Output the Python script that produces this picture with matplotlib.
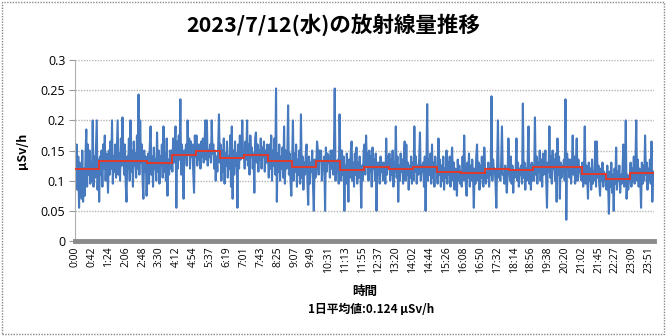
import matplotlib
matplotlib.use('Agg')
import matplotlib.pyplot as plt
import numpy as np

plt.rcParams['font.family'] = ['Noto Sans CJK JP', 'DejaVu Sans']

# readings every 2 minutes, in nSv/h, one list per hour
h00 = [150, 95, 160, 85, 140, 55, 130, 100, 70, 150, 65, 120, 75, 140, 185, 90, 160, 110, 150, 95, 130, 100, 200, 90, 140, 105, 150, 200, 85, 135]
h01 = [65, 140, 110, 150, 90, 160, 120, 175, 100, 145, 125, 80, 150, 110, 165, 120, 200, 95, 140, 115, 160, 105, 150, 200, 110, 145, 100, 170, 125, 205]
h02 = [150, 110, 160, 95, 65, 140, 120, 170, 100, 200, 115, 150, 90, 165, 125, 145, 105, 175, 120, 243, 110, 200, 130, 160, 100, 70, 150, 115, 140, 75]
h03 = [120, 145, 95, 160, 190, 110, 140, 90, 155, 120, 135, 100, 180, 115, 150, 95, 140, 125, 160, 105, 190, 115, 145, 100, 170, 75, 135, 110, 150, 120]
h04 = [150, 115, 170, 130, 160, 190, 55, 165, 120, 175, 135, 235, 110, 160, 130, 70, 150, 140, 160, 125, 200, 145, 170, 120, 165, 140, 160, 115, 80, 175]
h05 = [140, 175, 125, 160, 135, 160, 120, 165, 140, 170, 130, 155, 200, 135, 200, 125, 150, 140, 160, 130, 200, 145, 160, 120, 150, 100, 140, 115, 155, 210]
h06 = [130, 160, 100, 150, 115, 170, 95, 145, 125, 165, 105, 140, 120, 175, 90, 190, 70, 150, 110, 165, 125, 145, 55, 160, 120, 175, 135, 150, 200, 140]
h07 = [150, 120, 165, 135, 200, 125, 160, 110, 175, 140, 155, 120, 145, 80, 170, 180, 130, 160, 115, 150, 135, 170, 120, 155, 140, 165, 115, 150, 130, 160]
h08 = [140, 105, 160, 120, 175, 100, 150, 125, 170, 110, 253, 65, 145, 115, 160, 100, 140, 120, 155, 105, 190, 95, 150, 120, 135, 225, 110, 145, 100, 75]
h09 = [130, 200, 100, 145, 115, 160, 90, 135, 110, 150, 95, 210, 105, 140, 85, 130, 110, 145, 160, 100, 60, 140, 95, 130, 115, 150, 90, 50, 135, 105]
h10 = [120, 165, 150, 110, 150, 135, 150, 100, 130, 125, 140, 50, 155, 115, 145, 130, 140, 105, 150, 120, 150, 110, 145, 253, 100, 130, 115, 135, 95, 210]
h11 = [130, 100, 150, 110, 140, 50, 125, 95, 145, 115, 65, 135, 105, 150, 165, 100, 130, 90, 145, 110, 155, 95, 130, 105, 140, 115, 55, 125, 100, 150]
h12 = [160, 110, 175, 125, 145, 100, 150, 115, 140, 90, 155, 120, 135, 100, 145, 50, 130, 110, 130, 95, 140, 115, 130, 100, 130, 120, 95, 170, 110, 140]
h13 = [120, 145, 100, 135, 110, 150, 90, 130, 115, 190, 105, 140, 65, 125, 100, 145, 115, 135, 95, 140, 165, 100, 160, 110, 130, 85, 125, 105, 140, 95]
h14 = [130, 100, 190, 115, 140, 95, 125, 110, 135, 180, 100, 125, 115, 130, 90, 140, 50, 120, 227, 100, 135, 110, 145, 95, 160, 105, 130, 90, 140, 115]
h15 = [120, 95, 170, 110, 135, 90, 125, 100, 140, 85, 120, 105, 150, 95, 130, 110, 140, 90, 125, 155, 100, 130, 85, 120, 105, 75, 135, 100, 125, 95]
h16 = [115, 90, 140, 100, 175, 120, 95, 75, 130, 105, 145, 90, 125, 100, 135, 110, 55, 120, 95, 140, 160, 100, 130, 85, 125, 105, 140, 95, 90, 155]
h17 = [120, 95, 115, 105, 130, 90, 120, 110, 240, 100, 135, 115, 120, 95, 55, 125, 200, 105, 115, 100, 130, 190, 110, 110, 95, 125, 105, 80, 110, 170]
h18 = [130, 100, 140, 95, 125, 80, 115, 105, 115, 170, 100, 130, 90, 120, 110, 125, 95, 228, 105, 130, 85, 120, 100, 135, 190, 95, 125, 85, 130, 100]
h19 = [125, 100, 205, 110, 140, 95, 130, 115, 150, 100, 135, 90, 145, 110, 125, 150, 100, 55, 130, 115, 190, 105, 140, 95, 150, 120, 135, 100, 145, 65]
h20 = [170, 110, 140, 70, 130, 105, 125, 115, 135, 100, 235, 35, 145, 120, 135, 105, 135, 95, 125, 175, 110, 140, 95, 130, 170, 100, 135, 115, 120, 105]
h21 = [100, 130, 90, 120, 190, 95, 125, 105, 70, 130, 100, 120, 85, 135, 95, 115, 100, 165, 90, 165, 105, 125, 95, 75, 120, 100, 130, 90, 115, 100]
h22 = [110, 85, 125, 95, 45, 115, 90, 130, 80, 110, 50, 120, 95, 155, 85, 115, 100, 125, 80, 110, 95, 120, 160, 90, 105, 200, 70, 110, 85, 100]
h23 = [105, 130, 90, 120, 100, 140, 95, 125, 200, 100, 135, 90, 120, 105, 55, 130, 95, 125, 100, 175, 110, 130, 85, 120, 100, 135, 95, 165, 65, 115]

# hourly averages (red line), uSv/h
hourly = [0.120, 0.133, 0.132, 0.130, 0.143, 0.149, 0.137, 0.142, 0.133, 0.123, 0.133, 0.117,
          0.123, 0.119, 0.123, 0.114, 0.112, 0.119, 0.117, 0.122, 0.123, 0.111, 0.103, 0.113]

xtick_labels = ['0:00', '0:42', '1:24', '2:06', '2:48', '3:30', '4:12', '4:54', '5:37', '6:19',
                '7:01', '7:43', '8:25', '9:07', '9:49', '10:31', '11:13', '11:55', '12:37', '13:20',
                '14:02', '14:44', '15:26', '16:08', '16:50', '17:32', '18:14', '18:56', '19:38', '20:20',
                '21:02', '21:45', '22:27', '23:09', '23:51']
ytick_vals = [0, 0.05, 0.1, 0.15, 0.2, 0.25, 0.3]
ytick_labels = ['0', '0.05', '0.1', '0.15', '0.2', '0.25', '0.3']

blue = np.array(h00 + h01 + h02 + h03 + h04 + h05 + h06 + h07 + h08 + h09 + h10 + h11 +
                h12 + h13 + h14 + h15 + h16 + h17 + h18 + h19 + h20 + h21 + h22 + h23) / 1000.0
minutes = np.arange(len(blue)) * 2

fig = plt.figure(figsize=(6.7, 3.36), dpi=100)
ax = fig.add_axes([0.112, 0.283, 0.864, 0.538])

ax.plot(minutes, blue, color='#4679bd', linewidth=1.5, zorder=2)
ax.stairs(hourly, np.arange(25) * 60, baseline=None, color='#e0392b', linewidth=1.4, zorder=3)

ax.set_xlim(0, 1440)
ax.set_ylim(0, 0.3)
ax.set_xticks(np.arange(len(xtick_labels)) * 42)
ax.set_xticklabels(xtick_labels, rotation=90, fontsize=7.5, family=['Open Sans', 'DejaVu Sans'])
ax.set_yticks(ytick_vals)
ax.set_yticklabels(ytick_labels, fontsize=9, family=['Open Sans', 'DejaVu Sans'])
ax.tick_params(axis='x', length=0, pad=4)
ax.tick_params(axis='y', length=4, color='#999999', pad=3)

ax.yaxis.grid(True, linestyle=(0, (1, 1)), color='#b5b5b5', linewidth=1)
ax.set_axisbelow(True)
for s in ['top', 'right']:
    ax.spines[s].set_visible(False)
ax.spines['left'].set_color('#b0b0b0')
ax.spines['left'].set_linestyle((0, (1, 1)))
ax.spines['bottom'].set_color('#8a8a8a')
ax.spines['bottom'].set_linewidth(3.5)

fig.text(0.497, 0.926, '2023/7/12(水)の放射線量推移', ha='center', va='center', fontsize=15.5, fontweight='bold')
fig.text(0.033, 0.552, 'μSv/h', ha='center', va='center', rotation=90, fontsize=9, fontweight='bold')
fig.text(0.545, 0.131, '時間', ha='center', va='center', fontsize=9, fontweight='bold')
fig.text(0.554, 0.080, '1日平均値:0.124 μSv/h', ha='center', va='center', fontsize=8.5, fontweight='bold')

# chart frame
fig.patches.append(plt.Rectangle((0.003, 0.006), 0.988, 0.988, transform=fig.transFigure,
                                 fill=False, edgecolor='#888888', linestyle=(0, (1, 1)), linewidth=1))

plt.savefig('out.png', dpi=100)
